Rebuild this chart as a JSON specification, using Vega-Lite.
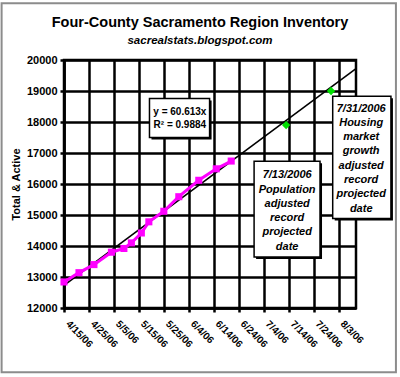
{
  "$schema": "https://vega.github.io/schema/vega-lite/v6.json",
  "width": 292,
  "height": 248,
  "autosize": {"type": "none"},
  "padding": {"left": 64, "top": 60, "right": 44, "bottom": 69},
  "background": "white",
  "title": {
    "text": "Four-County Sacramento Region Inventory",
    "subtitle": "sacrealstats.blogspot.com",
    "font": "Liberation Sans", "fontSize": 14.5, "fontWeight": "bold", "color": "black",
    "subtitleFont": "Liberation Sans", "subtitleFontSize": 11.5, "subtitleFontWeight": "bold",
    "subtitleFontStyle": "italic", "subtitleColor": "black",
    "anchor": "middle", "dx": -10, "offset": -45, "subtitlePadding": 4
  },
  "config": {
    "view": {"stroke": "black", "strokeWidth": 2.5},
    "axis": {
      "labelFont": "Liberation Sans", "labelFontWeight": "bold", "labelColor": "black",
      "titleFont": "Liberation Sans", "titleFontWeight": "bold", "titleColor": "black",
      "domainColor": "black", "domainWidth": 2.5,
      "tickColor": "black", "tickWidth": 2.5, "tickSize": 4,
      "gridColor": "black", "gridWidth": 2.5, "gridOpacity": 1,
      "labelFlush": false, "labelOverlap": false
    }
  },
  "datasets": {
    "inventory": [
      {"date": "2006-04-15", "value": 12840},
      {"date": "2006-04-21", "value": 13140},
      {"date": "2006-04-27", "value": 13400},
      {"date": "2006-05-04", "value": 13800},
      {"date": "2006-05-09", "value": 13920},
      {"date": "2006-05-12", "value": 14100},
      {"date": "2006-05-16", "value": 14420},
      {"date": "2006-05-19", "value": 14780},
      {"date": "2006-05-25", "value": 15120},
      {"date": "2006-05-31", "value": 15590},
      {"date": "2006-06-08", "value": 16120},
      {"date": "2006-06-15", "value": 16490},
      {"date": "2006-06-21", "value": 16740}
    ],
    "trend": [
      {"date": "2006-04-15", "value": 12730},
      {"date": "2006-08-10", "value": 19720}
    ],
    "projected": [
      {"date": "2006-07-13", "value": 17900},
      {"date": "2006-07-31", "value": 19000}
    ],
    "frame": [
      {"date": "2006-03-21", "date2": "2006-08-26", "value": 21830, "value2": 9926}
    ],
    "boxes": [
      {"date": "2006-05-19T06:00", "date2": "2006-06-12T08:00", "value": 18755, "value2": 17500},
      {"date": "2006-06-30T04:00", "date2": "2006-07-26T14:00", "value": 16732, "value2": 13645},
      {"date": "2006-07-31T16:00", "date2": "2006-08-24T00:00", "value": 18829, "value2": 14884}
    ],
    "equation": [
      {"date": "2006-05-31T10:00", "value": 18323, "label": "y = 60.613x\nR² = 0.9884"}
    ],
    "notes": [
      {"date": "2006-07-13T10:00", "value": 16281, "label": "7/13/2006\nPopulation\nadjusted\nrecord\nprojected\ndate"},
      {"date": "2006-08-12T02:00", "value": 18432, "label": "7/31/2006\nHousing\nmarket\ngrowth\nadjusted\nrecord\nprojected\ndate"}
    ]
  },
  "encoding": {
    "x": {
      "field": "date", "type": "temporal",
      "scale": {"type": "utc", "domain": [{"year": 2006, "month": 4, "date": 15, "utc": true}, {"year": 2006, "month": 8, "date": 10, "utc": true}]},
      "axis": {
        "title": null, "format": "%-m/%-d/%y", "labelAngle": 45, "labelAlign": "left", "labelBaseline": "middle",
        "labelFontSize": 10, "labelPadding": 10, "labelOffset": 3,
        "values": [
          {"year": 2006, "month": 4, "date": 15, "utc": true},
          {"year": 2006, "month": 4, "date": 25, "utc": true},
          {"year": 2006, "month": 5, "date": 5, "utc": true},
          {"year": 2006, "month": 5, "date": 15, "utc": true},
          {"year": 2006, "month": 5, "date": 25, "utc": true},
          {"year": 2006, "month": 6, "date": 4, "utc": true},
          {"year": 2006, "month": 6, "date": 14, "utc": true},
          {"year": 2006, "month": 6, "date": 24, "utc": true},
          {"year": 2006, "month": 7, "date": 4, "utc": true},
          {"year": 2006, "month": 7, "date": 14, "utc": true},
          {"year": 2006, "month": 7, "date": 24, "utc": true},
          {"year": 2006, "month": 8, "date": 3, "utc": true}
        ]
      }
    },
    "y": {
      "field": "value", "type": "quantitative",
      "scale": {"domain": [12000, 20000], "nice": false, "zero": false},
      "axis": {
        "title": "Total & Active", "titleFontSize": 11, "titlePadding": 5,
        "format": "d", "labelFontSize": 11, "labelPadding": 3,
        "values": [12000, 13000, 14000, 15000, 16000, 17000, 18000, 19000, 20000]
      }
    }
  },
  "layer": [
    {
      "data": {"name": "frame"},
      "mark": {"type": "rect", "fill": null, "fillOpacity": 0, "stroke": "#8c8c8c", "strokeWidth": 2, "clip": false},
      "encoding": {"x2": {"field": "date2"}, "y2": {"field": "value2"}}
    },
    {
      "data": {"name": "trend"},
      "mark": {"type": "line", "color": "black", "strokeWidth": 1.6},
      "encoding": {}
    },
    {
      "data": {"name": "inventory"},
      "mark": {"type": "line", "color": "#FF00FF", "strokeWidth": 3,
               "point": {"shape": "square", "size": 50, "filled": true, "color": "#FF00FF"}},
      "encoding": {}
    },
    {
      "data": {"name": "projected"},
      "mark": {"type": "point", "shape": "diamond", "size": 70, "filled": true, "color": "#00E000", "opacity": 1},
      "encoding": {}
    },
    {
      "data": {"name": "boxes"},
      "mark": {"type": "rect", "fill": "black", "xOffset": 2, "yOffset": 2, "x2Offset": 2, "y2Offset": 2},
      "encoding": {"x2": {"field": "date2"}, "y2": {"field": "value2"}}
    },
    {
      "data": {"name": "boxes"},
      "mark": {"type": "rect", "fill": "white", "stroke": "black", "strokeWidth": 1.5},
      "encoding": {"x2": {"field": "date2"}, "y2": {"field": "value2"}}
    },
    {
      "data": {"name": "equation"},
      "mark": {"type": "text", "font": "Liberation Sans", "fontWeight": "bold", "fontSize": 10,
               "lineBreak": "\n", "lineHeight": 13.5, "align": "center", "baseline": "middle", "color": "black"},
      "encoding": {"text": {"field": "label"}}
    },
    {
      "data": {"name": "notes"},
      "mark": {"type": "text", "font": "Liberation Sans", "fontWeight": "bold", "fontStyle": "italic", "fontSize": 11,
               "lineBreak": "\n", "lineHeight": 14.3, "align": "center", "baseline": "middle", "color": "black"},
      "encoding": {"text": {"field": "label"}}
    }
  ]
}
